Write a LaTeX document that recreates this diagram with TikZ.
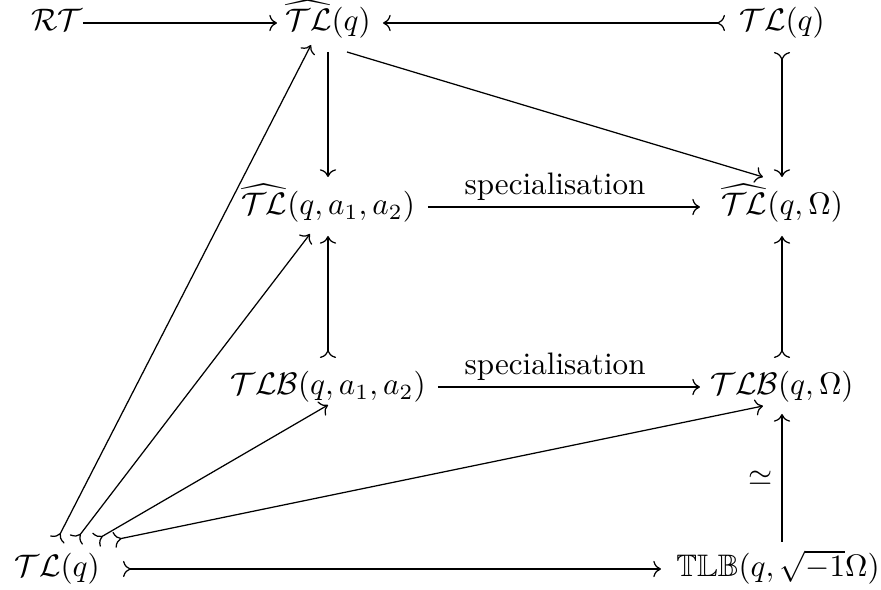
\documentclass[tikz,border=0pt]{standalone}
\usepackage{amsmath,amssymb}
\usetikzlibrary{arrows.meta,cd}
\begin{document}
\begin{tikzpicture}[x=0.3216pt,y=-0.3216pt,
  obj/.style={inner sep=0pt, anchor=base},
  arr/.style={-{tikzcd to}, line width=0.4pt},
  mono/.style={{tikzcd to[reversed]}-{tikzcd to}, line width=0.4pt},
  lab/.style={inner sep=0pt, anchor=base, yshift=3.9pt}]
\useasboundingbox (0,0) rectangle (881,590);
% objects
\node[obj] (rt) at (57,31)  {$\mathcal{RT}$};
\node[obj] (th) at (328,31) {$\widehat{\mathcal{TL}}(q)$};
\node[obj] (tr) at (782,31) {$\mathcal{TL}(q)$};
\node[obj] (ha) at (328,215) {$\widehat{\mathcal{TL}}(q,a_1,a_2)$};
\node[obj] (ho) at (782,215) {$\widehat{\mathcal{TL}}(q,\Omega)$};
\node[obj] (ba) at (328,395) {$\mathcal{TLB}(q,a_1,a_2)$};
\node[obj] (bo) at (782,395) {$\mathcal{TLB}(q,\Omega)$};
\node[obj] (bl) at (57,577) {$\mathcal{TL}(q)$};
\node[obj] (bb) at (778,577) {$\mathbb{TLB}(q,\sqrt{-1}\Omega)$};
% top row
\draw[arr]  ([shift={(26,-8)}]rt.base) -- ([shift={(-51,-8)}]th.base);
\draw[mono] ([shift={(-57,-8)}]tr.base) -- ([shift={(55,-8)}]th.base);
% verticals and diagonal from top
\draw[mono] ([shift={(0,21)}]tr.base) -- ([shift={(0,-38)}]ho.base);
\draw[arr]  ([shift={(19,21)}]th.base) -- ([shift={(-19,-38)}]ho.base);
\draw[arr]  ([shift={(0,21)}]th.base) -- ([shift={(0,-38)}]ha.base);
% specialisation arrows
\draw[arr]  ([shift={(100,-8)}]ha.base) -- node[lab, pos=0.467] {specialisation} ([shift={(-82,-8)}]ho.base);
\draw[arr]  ([shift={(110,-8)}]ba.base) -- node[lab, pos=0.447] {specialisation} ([shift={(-82,-8)}]bo.base);
% middle verticals
\draw[mono] ([shift={(0,-37)}]ba.base) -- ([shift={(0,21)}]ha.base);
\draw[mono] ([shift={(0,-37)}]bo.base) -- ([shift={(0,21)}]ho.base);
% iso
\draw[arr]  ([shift={(4,-35)}]bb.base) -- node[midway, left, inner sep=2.9pt] {$\simeq$} ([shift={(0,19)}]bo.base);
% bottom row
\draw[mono] ([shift={(66,-8)}]bl.base) -- ([shift={(-117,-8)}]bb.base);
% diagonals from bottom-left
\draw[mono] ([shift={(0,-37)}]bl.base)  -- ([shift={(-17,14)}]th.base);
\draw[mono] ([shift={(19,-37)}]bl.base) -- ([shift={(-18,19)}]ha.base);
\draw[mono] ([shift={(39,-37)}]bl.base) -- ([shift={(0,10)}]ba.base);
\draw[mono] ([shift={(57,-37)}]bl.base) -- ([shift={(-19,11)}]bo.base);
\end{tikzpicture}
\end{document}
